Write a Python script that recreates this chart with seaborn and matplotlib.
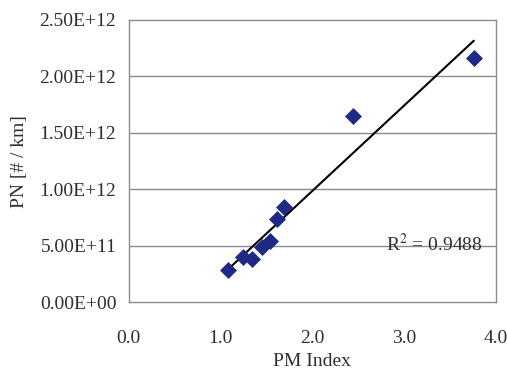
import numpy as np
import pandas as pd
import matplotlib
matplotlib.use("Agg")
import matplotlib.pyplot as plt
import seaborn as sns

# PM index vs particle number
pm_index = [1.08, 1.25, 1.34, 1.45, 1.54, 1.62, 1.69, 2.44, 3.76]
pn_per_km = [0.29e12, 0.405e12, 0.38e12, 0.49e12, 0.54e12, 0.74e12, 0.84e12, 1.65e12, 2.16e12]
y_ticks = [0, 0.5e12, 1.0e12, 1.5e12, 2.0e12, 2.5e12]
y_labels = ["0.00E+00", "5.00E+11", "1.00E+12", "1.50E+12", "2.00E+12", "2.50E+12"]
x_ticks = [0, 1, 2, 3, 4]
x_labels = ["0.0", "1.0", "2.0", "3.0", "4.0"]
r2_text = "R$^2$ = 0.9488"

df = pd.DataFrame({"pm": pm_index, "pn": pn_per_km})

sns.set_theme(style="white")
plt.rcParams["font.family"] = ["Liberation Serif", "DejaVu Serif"]
plt.rcParams["mathtext.fontset"] = "stix"

fs = 14
txt = "#2e2e2e"
fig = plt.figure(figsize=(5.07, 3.77), dpi=100)
ax = fig.add_axes([0.254, 0.198, 0.724, 0.749])

# gridlines
for t in y_ticks[1:-1]:
    ax.axhline(t, color="#8a8a8a", lw=1.0, zorder=0)

sns.regplot(data=df, x="pm", y="pn", ax=ax, scatter=False, ci=None,
            line_kws={"color": "black", "lw": 1.5, "zorder": 2})
sns.scatterplot(data=df, x="pm", y="pn", ax=ax, marker="D", s=75,
                color="#1f2a85", edgecolor="#1f2a85", linewidth=0, zorder=3)

ax.set_xlim(0, 4)
ax.set_ylim(0, 2.5e12)
ax.set_xticks(x_ticks)
ax.set_xticklabels(x_labels, fontsize=fs, color=txt)
ax.set_yticks(y_ticks)
ax.set_yticklabels(y_labels, fontsize=fs, color=txt)
ax.tick_params(axis="x", direction="in", length=4, color="#8a8a8a", pad=20)
ax.tick_params(axis="y", direction="out", length=3, color="#8a8a8a", pad=6)
ax.set_xlabel("PM Index", fontsize=fs, color=txt, labelpad=4)
ax.set_ylabel("PN [# / km]", fontsize=fs, color=txt, labelpad=8)

for s in ax.spines.values():
    s.set_color("#8a8a8a")
    s.set_linewidth(1.0)

ax.text(2.80, 0.52e12, r2_text, fontsize=fs, color=txt, va="center")

fig.savefig("out.png", dpi=100)
